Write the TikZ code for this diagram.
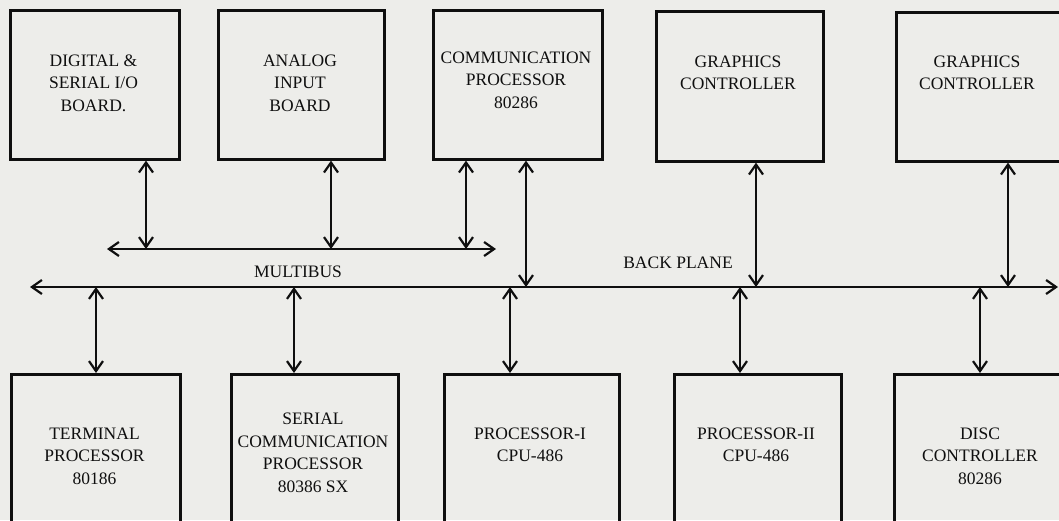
\documentclass[tikz,border=0pt]{standalone}
\usepackage{fontspec}
\setmainfont{Liberation Serif}
\usetikzlibrary{arrows.meta}
\definecolor{paper}{RGB}{237,237,234}
\definecolor{ink}{RGB}{15,15,15}
\tikzset{
  box/.style={draw=ink, line width=2.6pt, inner sep=0pt, anchor=north west},
  lbl/.style={align=center, inner sep=0pt, text=ink, font=\fontsize{17.5}{22.5}\selectfont},
  conn/.style={draw=ink, line width=2.2pt, {Straight Barb[length=10pt,width=14pt]}-{Straight Barb[length=10pt,width=14pt]}},
}
\begin{document}
\begin{tikzpicture}[x=1pt,y=-1pt]
\clip (0,0) rectangle (1059,520);
\fill[paper] (0,0) rectangle (1059,520);

% top boxes
\node[box, minimum width=169, minimum height=149] (b1) at (9,9) {};
\node[box, minimum width=166, minimum height=149] (b2) at (217,9) {};
\node[box, minimum width=169, minimum height=149] (b3) at (432,9) {};
\node[box, minimum width=167, minimum height=150] (b4) at (655,10) {};
\node[box, minimum width=175, minimum height=149] (b5) at (895,11) {};

\node[lbl] (b1t) at (93.5,83) {DIGITAL \&\\SERIAL I/O\\BOARD.};
\node[lbl] (b2t) at (300,83) {ANALOG\\INPUT\\BOARD};
\node[lbl] (b3t) at (516,80) {COMMUNICATION\\PROCESSOR\\80286};
\node[lbl] (b4t) at (738,73) {GRAPHICS\\CONTROLLER};
\node[lbl] (b5t) at (977,73) {GRAPHICS\\CONTROLLER};

% bottom boxes
\node[box, minimum width=169, minimum height=170] (t1) at (10,373) {};
\node[box, minimum width=167, minimum height=170] (t2) at (230,373) {};
\node[box, minimum width=175, minimum height=170] (t3) at (443,373) {};
\node[box, minimum width=167, minimum height=170] (t4) at (673,373) {};
\node[box, minimum width=177, minimum height=170] (t5) at (893,373) {};

\node[lbl] (t1t) at (94.5,456) {TERMINAL\\PROCESSOR\\80186};
\node[lbl] (t2t) at (313,453) {SERIAL\\COMMUNICATION\\PROCESSOR\\80386 SX};
\node[lbl] (t3t) at (530,445) {PROCESSOR-I\\CPU-486};
\node[lbl] (t4t) at (756,445) {PROCESSOR-II\\CPU-486};
\node[lbl] (t5t) at (980,456) {DISC\\CONTROLLER\\80286};

% buses
\coordinate (mbL) at (107,249);
\coordinate (mbR) at (496,249);
\coordinate (bpL) at (30,287);
\coordinate (bpR) at (1058,287);
\draw[conn] (mbL) -- (mbR);
\draw[conn] (bpL) -- (bpR);

\node[lbl] (mbt) at (298,272) {MULTIBUS};
\node[lbl] (bpt) at (678,263) {BACK PLANE};

% x positions of the vertical connectors
\coordinate (xa1) at (146,0);
\coordinate (xa2) at (331,0);
\coordinate (xa3) at (466,0);
\coordinate (xa4) at (526,0);
\coordinate (xa5) at (756,0);
\coordinate (xa6) at (1008,0);
\coordinate (xc1) at (96,0);
\coordinate (xc2) at (294,0);
\coordinate (xc3) at (510,0);
\coordinate (xc4) at (740,0);
\coordinate (xc5) at (980,0);

\draw[conn] (xa1 |- b1.south) -- (xa1 |- mbL);
\draw[conn] (xa2 |- b2.south) -- (xa2 |- mbL);
\draw[conn] (xa3 |- b3.south) -- (xa3 |- mbL);
\draw[conn] (xa4 |- b3.south) -- (xa4 |- bpL);
\draw[conn] (xa5 |- b4.south) -- (xa5 |- bpL);
\draw[conn] (xa6 |- b5.south) -- (xa6 |- bpL);

\draw[conn] (xc1 |- bpL) -- (xc1 |- t1.north);
\draw[conn] (xc2 |- bpL) -- (xc2 |- t2.north);
\draw[conn] (xc3 |- bpL) -- (xc3 |- t3.north);
\draw[conn] (xc4 |- bpL) -- (xc4 |- t4.north);
\draw[conn] (xc5 |- bpL) -- (xc5 |- t5.north);
\end{tikzpicture}
\end{document}
